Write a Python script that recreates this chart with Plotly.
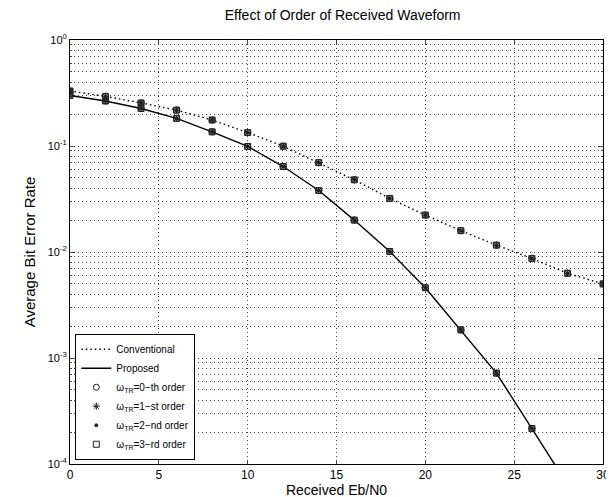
import plotly.graph_objects as go

# ---- data ----
snr_conv = [0, 2, 4, 6, 8, 10, 12, 14, 16, 18, 20, 22, 24, 26, 28, 30]
ber_conv = [0.33, 0.294, 0.255, 0.218, 0.176, 0.134, 0.0995, 0.0697, 0.048, 0.032,
            0.0223, 0.0159, 0.0116, 0.0087, 0.0063, 0.0050]
snr_prop = [0, 2, 4, 6, 8, 10, 12, 14, 16, 18, 20, 22, 24, 26, 28]
ber_prop = [0.30, 0.266, 0.226, 0.182, 0.136, 0.099, 0.064, 0.038, 0.020, 0.0101,
            0.0046, 0.00184, 0.00072, 0.000216, 0.000064]

order_names = ["ω<sub>TR</sub>=0−th order", "ω<sub>TR</sub>=1−st order",
               "ω<sub>TR</sub>=2−nd order", "ω<sub>TR</sub>=3−rd order"]
order_symbols = ["circle-open", "asterisk-open", "circle", "square-open"]
order_sizes = [6, 6, 3, 6]

x_ticks = [0, 5, 10, 15, 20, 25, 30]
y_tickvals = [1, 0.1, 0.01, 0.001, 0.0001]
y_ticktext = ["10<sup>0</sup>", "10<sup>-1</sup>", "10<sup>-2</sup>", "10<sup>-3</sup>", "10<sup>-4</sup>"]
y_minor_vals = [k * 10.0 ** e for e in range(-4, 0) for k in range(2, 10)]

FONT = "Liberation Sans, Arial, sans-serif"
DOTS = "1px,3px"

fig = go.Figure()
fig.add_trace(go.Scatter(x=snr_conv, y=ber_conv, mode="lines", name="Conventional",
                         line=dict(color="black", width=1.4, dash="1.5px,3px")))
fig.add_trace(go.Scatter(x=snr_prop, y=ber_prop, mode="lines", name="Proposed",
                         line=dict(color="black", width=1.4)))
for name, sym, sz in zip(order_names, order_symbols, order_sizes):
    fig.add_trace(go.Scatter(x=snr_conv + snr_prop, y=ber_conv + ber_prop, mode="markers",
                             name=name,
                             marker=dict(symbol=sym, size=sz, color="#222",
                                         line=dict(color="#222", width=1))))

grid = dict(showgrid=True, gridcolor="#444", griddash=DOTS, gridwidth=1)
fig.update_layout(
    width=614, height=497,
    margin=dict(l=62, r=12, t=32, b=34),
    paper_bgcolor="white", plot_bgcolor="white",
    font=dict(family=FONT, size=12, color="black"),
    title=dict(text="Effect of Order of Received Waveform", x=0.545, xanchor="center",
               y=0.996, yanchor="top", font=dict(size=14)),
    legend=dict(x=0.01, y=0.01, xanchor="left", yanchor="bottom",
                bordercolor="black", borderwidth=1, bgcolor="white",
                font=dict(size=10), tracegroupgap=0, itemwidth=30),
    showlegend=True,
)
fig.update_xaxes(range=[0, 30], tickvals=x_ticks, ticks="inside", ticklen=4,
                 showline=True, linecolor="black", linewidth=1, mirror="ticks",
                 zeroline=False, title=dict(text="Received Eb/N0", font=dict(size=14), standoff=1),
                 tickfont=dict(size=12), **grid)
fig.update_yaxes(type="log", range=[-4, 0], tickvals=y_tickvals, ticktext=y_ticktext,
                 ticks="inside", ticklen=4,
                 showline=True, linecolor="black", linewidth=1, mirror="ticks",
                 title=dict(text="Average Bit Error Rate", font=dict(size=15), standoff=8),
                 tickfont=dict(size=11),
                 minor=dict(tickmode="array", tickvals=y_minor_vals, ticks="inside", ticklen=2,
                            showgrid=True, gridcolor="#444", griddash=DOTS, gridwidth=1),
                 **grid)

fig.write_html("out.html")
